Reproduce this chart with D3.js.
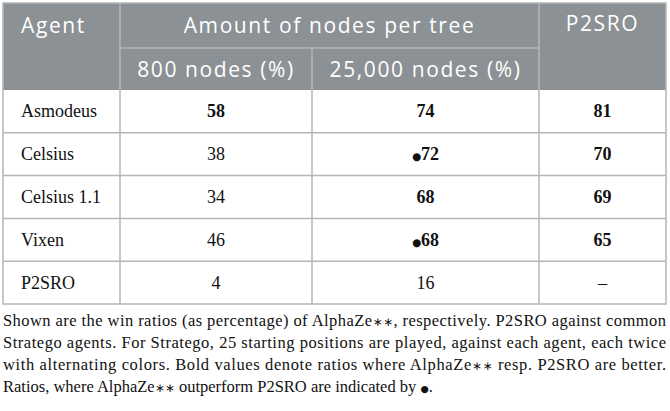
<!DOCTYPE html>
<html>
<head>
<meta charset="utf-8">
<script src="https://cdn.jsdelivr.net/npm/d3@7"></script>
<style>
  body { margin: 0; background: #fff; }
</style>
</head>
<body>
<div id="table"></div>
<script>
const agents = ["Asmodeus", "Celsius", "Celsius 1.1", "Vixen", "P2SRO"];
const nodes800 = ["58", "38", "34", "46", "4"];
const nodes25k = ["74", "72", "68", "68", "16"];
const p2sro = ["81", "70", "69", "65", "\u2013"];
const bold800 = [true, false, false, false, false];
const bold25k = [true, true, true, true, false];
const boldP2 = [true, true, true, true, false];
const dot25k = [false, true, false, true, false];
const headerTop = ["Agent", "Amount of nodes per tree", "P2SRO"];
const headerSub = ["800 nodes (%)", "25,000 nodes (%)"];
const caption = [
  "Shown are the win ratios (as percentage) of AlphaZe\u2217\u2217, respectively. P2SRO against common",
  "Stratego agents. For Stratego, 25 starting positions are played, against each agent, each twice",
  "with alternating colors. Bold values denote ratios where AlphaZe\u2217\u2217 resp. P2SRO are better.",
  "Ratios, where AlphaZe\u2217\u2217 outperform P2SRO are indicated by \u25CF."
];

const W = 670, H = 411;
const tLeft = 3, tRight = 666, tTop = 3;
const colEdges = [tLeft, 120, 312, 539, tRight];
const headMid = 48, headBottom = 90, tableBottom = 304;
const headFill = "#8b9195", lineCol = "#b4b6b6";
const serif = "'Liberation Serif', 'Times New Roman', serif";
const sans = "'Open Sans', 'Noto Sans', sans-serif";

const svg = d3.select("#table").append("svg")
  .attr("width", W).attr("height", H);

const y = d3.scaleBand().domain(agents).range([headBottom, tableBottom]);

// header background
svg.append("rect")
  .attr("x", tLeft).attr("y", tTop)
  .attr("width", tRight - tLeft).attr("height", headBottom - tTop)
  .attr("fill", headFill);

const rows = agents.map((a, i) => ({
  agent: a,
  cells: [
    { v: nodes800[i], b: bold800[i], dot: false },
    { v: nodes25k[i], b: bold25k[i], dot: dot25k[i] },
    { v: p2sro[i], b: boldP2[i], dot: false }
  ]
}));

const g = svg.append("g");

// grid lines
g.selectAll("line.h")
  .data(agents.slice(1))
  .enter().append("line")
  .attr("x1", tLeft).attr("x2", tRight)
  .attr("y1", d => y(d)).attr("y2", d => y(d))
  .attr("stroke", lineCol).attr("stroke-width", 1.5);

g.append("line")
  .attr("x1", colEdges[1]).attr("x2", colEdges[3])
  .attr("y1", headMid).attr("y2", headMid)
  .attr("stroke", lineCol).attr("stroke-width", 1.5);

g.selectAll("line.v")
  .data(colEdges.slice(1, 4))
  .enter().append("line")
  .attr("x1", d => d).attr("x2", d => d)
  .attr("y1", (d, i) => i === 1 ? headMid : tTop)
  .attr("y2", tableBottom)
  .attr("stroke", lineCol).attr("stroke-width", 1.5);

svg.append("rect")
  .attr("x", tLeft).attr("y", tTop)
  .attr("width", tRight - tLeft).attr("height", tableBottom - tTop)
  .attr("fill", "none").attr("stroke", lineCol).attr("stroke-width", 1.5);

// header text
const hs = svg.append("g").attr("fill", "#fff").attr("font-family", sans)
  .attr("font-size", 21).attr("letter-spacing", 1.6);
hs.append("text").attr("x", 21).attr("y", 33).text(headerTop[0]);
hs.append("text").attr("x", (colEdges[1] + colEdges[3]) / 2).attr("y", 33)
  .attr("text-anchor", "middle").text(headerTop[1]);
hs.append("text").attr("x", (colEdges[3] + colEdges[4]) / 2).attr("y", 31)
  .attr("text-anchor", "middle").text(headerTop[2]);
hs.selectAll("text.sub")
  .data(headerSub)
  .enter().append("text")
  .attr("x", (d, i) => (colEdges[i + 1] + colEdges[i + 2]) / 2)
  .attr("y", 77)
  .attr("text-anchor", "middle")
  .text(d => d);

// body text
const rowG = svg.selectAll("g.row")
  .data(rows)
  .enter().append("g")
  .attr("transform", d => `translate(0,${y(d.agent) + y.bandwidth() / 2 + 6})`)
  .attr("font-family", serif).attr("font-size", 18).attr("fill", "#111");

rowG.append("text").attr("x", 21).text(d => d.agent);

const vals = rowG.selectAll("text.val")
  .data(d => d.cells)
  .enter().append("text")
  .attr("x", (d, i) => (colEdges[i + 1] + colEdges[i + 2]) / 2)
  .attr("text-anchor", "middle")
  .attr("font-weight", d => d.b ? "bold" : "normal");
vals.filter(d => d.dot).append("tspan")
  .attr("font-size", 10.5).attr("font-family", "'DejaVu Sans', sans-serif").text("\u25CF");
vals.append("tspan").text(d => d.v);

// caption, with small star / dot symbols
const cap = svg.append("g").attr("font-family", serif).attr("font-size", 16.5).attr("fill", "#111");
const capLines = cap.selectAll("text")
  .data(caption)
  .enter().append("text")
  .attr("x", tLeft)
  .attr("y", (d, i) => 326 + i * 22)
  .attr("textLength", (d, i) => i < 3 ? tRight - tLeft : null)
  .attr("lengthAdjust", "spacing");
capLines.each(function(d) {
  const t = d3.select(this);
  d.split(/(\u2217\u2217|\u25CF)/).forEach(part => {
    if (!part) return;
    const s = t.append("tspan").text(part);
    if (part === "\u2217\u2217") s.attr("font-size", 12).attr("font-family", "'DejaVu Sans', sans-serif");
    if (part === "\u25CF") s.attr("font-size", 9.5).attr("font-family", "'DejaVu Sans', sans-serif");
  });
});
</script>
</body>
</html>
